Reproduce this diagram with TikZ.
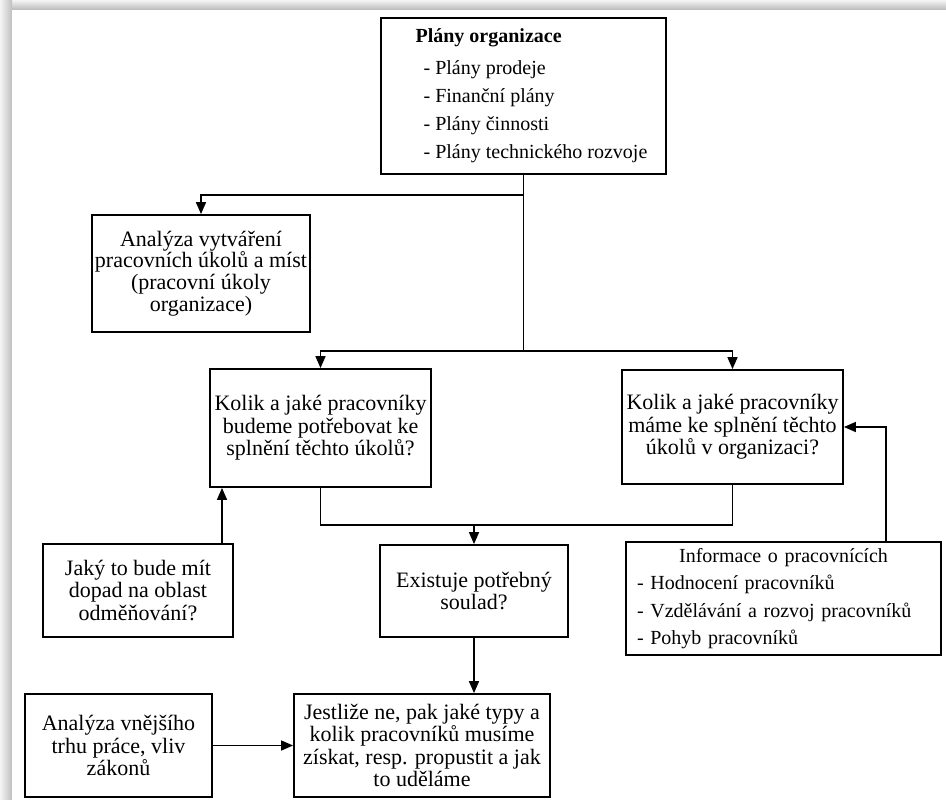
\documentclass[tikz,border=0pt]{standalone}
\usepackage{fontspec}
\setmainfont{Liberation Serif}
\usetikzlibrary{arrows.meta}
\begin{document}
\begin{tikzpicture}[x=1pt,y=-1pt,
  box/.style={draw, line width=1.8pt, inner sep=0pt, align=center,
    font=\fontsize{22}{22.5}\selectfont},
  link/.style={line width=1.6pt},
  arr/.style={link, -{Triangle[length=12pt,width=10pt]}}]
% frame with soft shadow
\shade[top color=gray!8, bottom color=gray!55] (0,0) rectangle (946,10);
\shade[left color=gray!8, right color=gray!50] (0,0) rectangle (12,800);
\fill[white] (12,10) rectangle (946,800);
\useasboundingbox (0,0) rectangle (946,800);

% boxes
\node[box, minimum width=285pt, minimum height=156pt, align=left,
  font=\fontsize{20}{28}\selectfont] (plany) at (523.5,96)
  {\hspace*{16pt}\textbf{Plány organizace}\\[4pt]
   \hspace*{24pt}- Plány prodeje\\
   \hspace*{24pt}- Finanční plány\\
   \hspace*{24pt}- Plány činnosti\\
   \hspace*{24pt}- Plány technického rozvoje};

\node[box, minimum width=218pt, minimum height=117pt,
  font=\fontsize{22}{21.7}\selectfont] (anal1) at (201,273.5)
  {Analýza vytváření\\pracovních úkolů a míst\\(pracovní úkoly\\organizace)};

\node[box, minimum width=221pt, minimum height=118pt] (kolikL) at (320.5,428)
  {Kolik a jaké pracovníky\\budeme potřebovat ke\\splnění těchto úkolů?};

\node[box, minimum width=221pt, minimum height=114pt] (kolikR) at (732.5,427)
  {Kolik a jaké pracovníky\\máme ke splnění těchto\\úkolů v organizaci?};

\node[box, minimum width=190pt, minimum height=93pt] (jaky) at (138,590.5)
  {Jaký to bude mít\\dopad na oblast\\odměňování?};

\node[box, minimum width=188pt, minimum height=92pt] (exist) at (474,591)
  {Existuje potřebný\\soulad?};

\node[box, minimum width=315pt, minimum height=113pt, align=left,
  text width=293pt, inner xsep=11pt,
  font=\fontsize{20}{27.5}\selectfont] (info) at (783.5,598.5)
  {\makebox[293pt][c]{Informace o pracovnících}\\
   - Hodnocení pracovníků\\
   - Vzdělávání a rozvoj pracovníků\\
   - Pohyb pracovníků};

\node[box, minimum width=256pt, minimum height=103pt] (jestli) at (422,745.5)
  {Jestliže ne, pak jaké typy a\\kolik pracovníků musíme\\získat, resp. propustit a jak\\to uděláme};

\node[box, minimum width=187pt, minimum height=103pt] (anal2) at (118.5,745.5)
  {Analýza vnějšího\\trhu práce, vliv\\zákonů};

% connectors
\coordinate (j1) at (522.6,195);
\coordinate (j2) at (522.6,351);
\coordinate (m) at (474,525);

\draw[link] (plany.south) -- (plany.south |- j2);
\draw[arr] (plany.south |- j1) -| (anal1.north);
\draw[arr] (plany.south |- j2) -| (kolikL.north);
\draw[arr] (plany.south |- j2) -| (kolikR.north);
\draw[link] (kolikL.south) |- (m) -| (kolikR.south);
\draw[arr] (m) -- (exist.north);
\draw[arr] (exist.south) -- (exist.south |- jestli.north);
\draw[arr] (anal2.east) -- (jestli.west);
\draw[arr] ([xshift=84pt]jaky.north) -- ([xshift=84pt]jaky.north |- kolikL.south);
\draw[arr] ([xshift=102.5pt]info.north) |- (kolikR.east);
\end{tikzpicture}
\end{document}
